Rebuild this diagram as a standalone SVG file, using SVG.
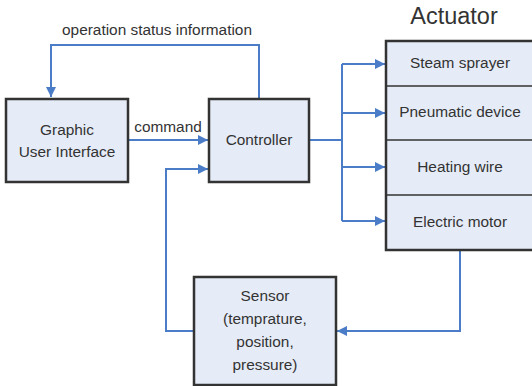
<svg xmlns="http://www.w3.org/2000/svg" width="532" height="386" viewBox="0 0 532 386">
<style>
.box{fill:#e6ecf7;stroke:#333;stroke-width:2.5}
.div{fill:none;stroke:#333;stroke-width:1.5}
.t{font-family:"Liberation Sans",Arial,sans-serif;font-size:15.4px;fill:#333;text-anchor:middle}
.c{fill:none;stroke:#4a7cc7;stroke-width:2}
</style>
<defs>
<marker id="a" viewBox="0 0 10 10" refX="10" refY="5" markerWidth="5" markerHeight="5" orient="auto" markerUnits="strokeWidth">
<path d="M0,0L10,5L0,10z" fill="#4a7cc7"/>
</marker>
</defs>
<rect width="532" height="386" fill="#fff"/>
<g id="connectors">
<path class="c" d="M259,99V45H51V97" marker-end="url(#a)"/>
<path class="c" d="M128,140H208" marker-end="url(#a)"/>
<path class="c" d="M194,331H166V169H208" marker-end="url(#a)"/>
<path class="c" d="M309,140H342"/>
<path class="c" d="M342,64V221"/>
<path class="c" d="M342,64H385" marker-end="url(#a)"/>
<path class="c" d="M342,113H385" marker-end="url(#a)"/>
<path class="c" d="M342,167H385" marker-end="url(#a)"/>
<path class="c" d="M342,221H385" marker-end="url(#a)"/>
<path class="c" d="M460,250V331H337" marker-end="url(#a)"/>
<text class="t" x="157" y="35">operation status information</text>
<text class="t" x="168" y="132">command</text>
</g>
<g id="gui">
<rect class="box" x="6" y="99" width="122" height="83"/>
<text class="t" x="67" y="135">Graphic</text>
<text class="t" x="67" y="157">User Interface</text>
</g>
<g id="controller">
<rect class="box" x="209" y="99" width="100" height="83"/>
<text class="t" x="259" y="145">Controller</text>
</g>
<g id="actuator">
<text class="t" x="454" y="24" style="font-size:23.5px">Actuator</text>
<rect class="box" x="386" y="41" width="150" height="209"/>
<path class="div" d="M386,86H532M386,140H532M386,195H532"/>
<g id="steam"><text class="t" x="460" y="68">Steam sprayer</text></g>
<g id="pneumatic"><text class="t" x="460" y="117">Pneumatic device</text></g>
<g id="heating"><text class="t" x="460" y="172">Heating wire</text></g>
<g id="motor"><text class="t" x="460" y="227">Electric motor</text></g>
</g>
<g id="sensor">
<rect class="box" x="194" y="277" width="142" height="108"/>
<text class="t" x="265" y="301">Sensor</text>
<text class="t" x="265" y="324">(temprature,</text>
<text class="t" x="265" y="347">position,</text>
<text class="t" x="265" y="370">pressure)</text>
</g>
</svg>
